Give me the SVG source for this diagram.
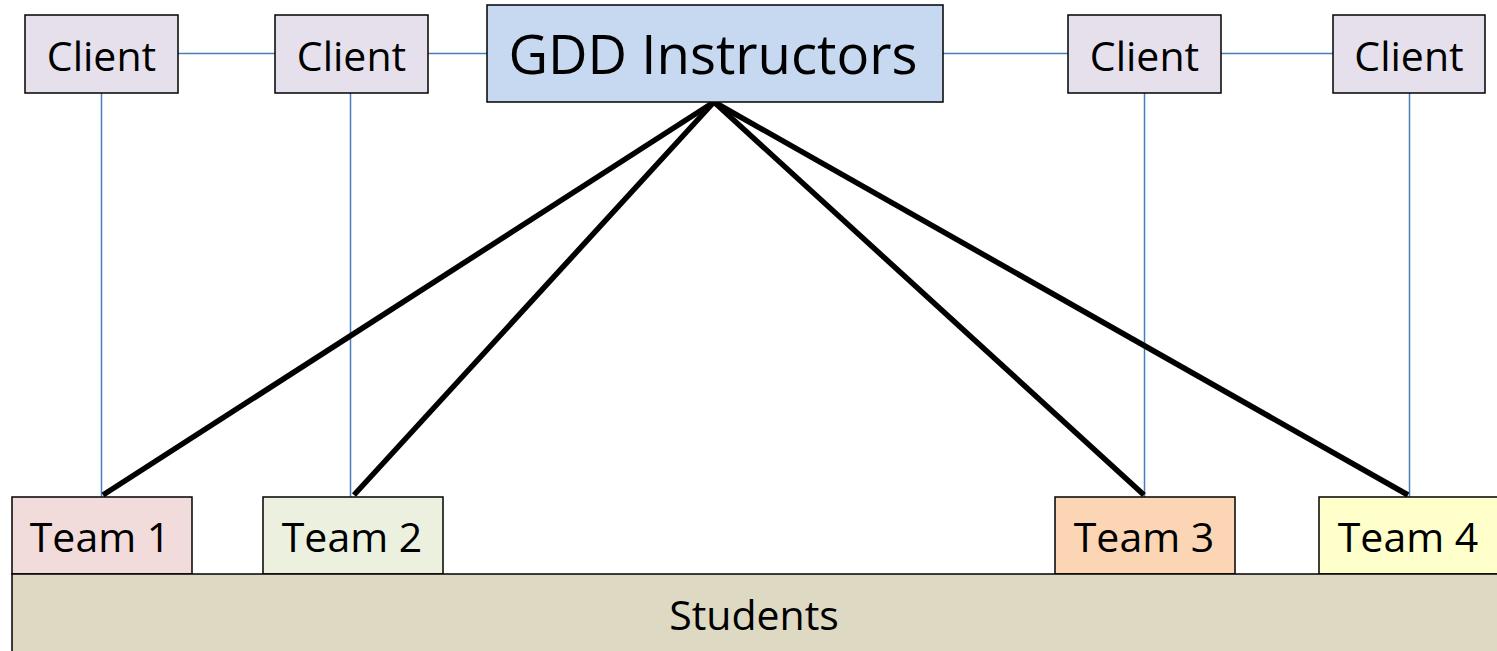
<svg xmlns="http://www.w3.org/2000/svg" width="1497" height="651" viewBox="0 0 1497 651">
<style>
.box{stroke:#000;stroke-width:1.5}
.t{font-family:"Open Sans","Liberation Sans",sans-serif;font-size:41px;fill:#000;text-anchor:middle}
.thin{stroke:#4a7ebb;stroke-width:1.5;fill:none}
.thick{stroke:#000;stroke-width:5.5;fill:none}
</style>
<rect width="1497" height="651" fill="#fff"/>
<g id="connectors">
<line class="thin" x1="178" y1="53.5" x2="275" y2="53.5"/>
<line class="thin" x1="428" y1="53.5" x2="487" y2="53.5"/>
<line class="thin" x1="943" y1="53.5" x2="1068" y2="53.5"/>
<line class="thin" x1="1221" y1="53.5" x2="1333" y2="53.5"/>
<line class="thin" x1="101.5" y1="93" x2="101.5" y2="497"/>
<line class="thin" x1="350.5" y1="93" x2="350.5" y2="497"/>
<line class="thin" x1="1144.5" y1="93" x2="1144.5" y2="497"/>
<line class="thin" x1="1409.5" y1="93" x2="1409.5" y2="497"/>
<line class="thick" x1="714" y1="102" x2="103" y2="495"/>
<line class="thick" x1="714" y1="102" x2="354" y2="495"/>
<line class="thick" x1="714" y1="102" x2="1144" y2="495"/>
<line class="thick" x1="714" y1="102" x2="1408" y2="495"/>
</g>
<g id="client1"><rect class="box" x="25" y="15" width="153" height="78" fill="#e5e0ec"/><text class="t" x="101.5" y="71">Client</text></g>
<g id="client2"><rect class="box" x="275" y="15" width="153" height="78" fill="#e5e0ec"/><text class="t" x="351.5" y="71">Client</text></g>
<g id="gdd"><rect class="box" x="487" y="5" width="456" height="97" fill="#c6d9f1"/><text class="t" x="713" y="74" style="font-size:54.5px">GDD Instructors</text></g>
<g id="client3"><rect class="box" x="1068" y="15" width="153" height="78" fill="#e5e0ec"/><text class="t" x="1144.5" y="71">Client</text></g>
<g id="client4"><rect class="box" x="1333" y="15" width="152" height="78" fill="#e5e0ec"/><text class="t" x="1409" y="71">Client</text></g>
<g id="team1"><rect class="box" x="12" y="497" width="180" height="77" fill="#f2dcdb"/><text class="t" x="100" y="552">Team 1</text></g>
<g id="team2"><rect class="box" x="263" y="497" width="180" height="77" fill="#ebf1de"/><text class="t" x="352" y="552">Team 2</text></g>
<g id="team3"><rect class="box" x="1055" y="497" width="180" height="77" fill="#fcd5b5"/><text class="t" x="1144" y="552">Team 3</text></g>
<g id="team4"><rect class="box" x="1319" y="497" width="190" height="77" fill="#ffffcc"/><text class="t" x="1408" y="552">Team 4</text></g>
<g id="students"><rect class="box" x="12" y="574" width="1500" height="90" fill="#ddd9c3"/><text class="t" x="754" y="630">Students</text></g>
</svg>
